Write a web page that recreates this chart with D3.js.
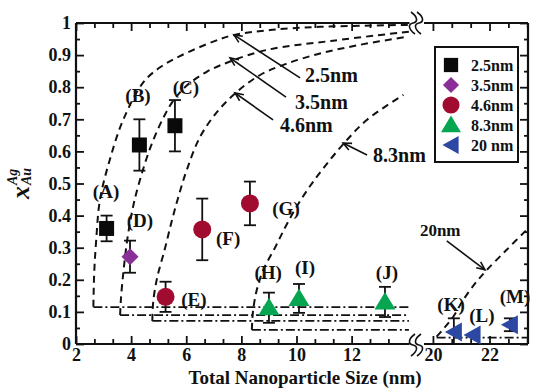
<!DOCTYPE html>
<html><head><meta charset="utf-8">
<script src="https://cdn.jsdelivr.net/npm/d3@7"></script>
<style>
body{margin:0;background:#fff}
svg{display:block}
text{font-family:"Liberation Serif","Times New Roman",serif;font-weight:bold;fill:#111}
</style>
</head><body>
<svg id="c" width="533" height="390"></svg>
<script>
// ---------- data ----------
const legendLabels = ["2.5nm","3.5nm","4.6nm","8.3nm","20 nm"];
const colors = ["#0a0a0a","#8b2f98","#a00b2f","#06a552","#2c48a3"];

const s25X=[3.11,4.30,5.59], s25Y=[0.36,0.62,0.68], s25E=[0.04,0.08,0.08], s25L=["(A)","(B)","(C)"];
const s35X=[3.96], s35Y=[0.272], s35E=[0.05], s35L=["(D)"];
const s46X=[5.25,6.58,8.31], s46Y=[0.147,0.357,0.438], s46E=[0.047,0.096,0.068], s46L=["(E)","(F)","(G)"];
const s83X=[9.00,10.09,13.21], s83Y=[0.113,0.142,0.131], s83E=[0.047,0.045,0.047], s83L=["(H)","(I)","(J)"];
const s20X=[20.74,21.40,22.72], s20Y=[0.037,0.028,0.060], s20E=[0.043,0.0,0.02], s20L=["(K)","(L)","(M)"];

// point label anchor (center x, baseline y) in data units
const labX=[3.09,4.25,5.99,4.32,6.28,7.52,9.62,8.97,10.31,13.28,20.64,21.73,22.90];
const labY=[0.455,0.754,0.779,0.364,0.118,0.308,0.402,0.202,0.218,0.202,0.103,0.069,0.128];

// theory curves (dashed)
const c25X=[2.63,2.66,2.73,2.87,3.23,3.72,4.44,5.05,5.77,6.98,7.70,9.04,10.85,14.08];
const c25Y=[0.116,0.22,0.32,0.45,0.575,0.70,0.815,0.862,0.897,0.942,0.962,0.978,0.988,0.994];
const c35X=[3.60,3.63,3.72,3.86,4.04,4.25,4.69,5.17,5.53,6.02,6.74,7.59,8.92,11.33,14.08];
const c35Y=[0.090,0.14,0.225,0.325,0.415,0.49,0.61,0.705,0.758,0.805,0.848,0.880,0.916,0.945,0.973];
const c46X=[4.77,4.80,4.94,5.22,5.48,5.72,6.03,6.50,7.11,7.83,8.68,9.60,10.85,12.30,14.0];
const c46Y=[0.072,0.13,0.205,0.295,0.385,0.46,0.545,0.645,0.722,0.785,0.838,0.872,0.905,0.932,0.957];
const c83X=[8.38,8.42,8.55,8.80,9.22,9.60,10.0,10.5,11.0,11.69,12.55,13.88];
const c83Y=[0.044,0.10,0.165,0.232,0.30,0.365,0.427,0.493,0.55,0.622,0.698,0.776];
const c20X=[20.13,20.40,20.72,21.07,21.54,21.90,22.60,23.36];
const c20Y=[0.023,0.05,0.085,0.137,0.194,0.23,0.293,0.36];

// baseline levels (dash-dot)
const baseStart=[2.63,3.60,4.77,8.38], baseLevel=[0.115,0.090,0.072,0.044];
const base20Start=20.13, base20Level=0.02;

// annotation arrows
const annLabels=["2.5nm","3.5nm","4.6nm","8.3nm"];
const annText=[[10.31,0.816],[9.95,0.732],[9.40,0.660],[12.78,0.567]];
const annFrom=[[10.13,0.829],[9.62,0.769],[9.15,0.698],[12.56,0.589]];
const annTo=[[7.73,0.963],[7.59,0.891],[7.77,0.782],[11.69,0.626]];
const ann20Text=[19.54,0.336], ann20From=[20.49,0.321], ann20To=[21.84,0.231];

const xMajorL=[2,4,6,8,10,12], xMajorR=[20,22];
const yMajor=[0,0.1,0.2,0.3,0.4,0.5,0.6,0.7,0.8,0.9,1];
const xTitle="Total Nanoparticle Size (nm)";

// ---------- layout ----------
const svg=d3.select("#c");
const L=76, R=528, T=23, B=344, brkL=409.5, brkR=425;
const xL=d3.scaleLinear().domain([2,14.1]).range([L,brkL]);
const xR=d3.scaleLinear().domain([19.72,23.36]).range([brkR,R]);
const y=d3.scaleLinear().domain([0,1]).range([B,T]);

const minorL=d3.range(0,19).map(i=>2+i*2/3).filter(v=>v<=14.05 && Math.abs(v-Math.round(v/2)*2)>0.01);
const minorR=[20.6667,21.3333,22.6667,23.3333];
const yMinor=d3.range(0,10).map(i=>0.05+i*0.1);

function styleAxis(g){g.select(".domain").remove();g.selectAll(".tick line").attr("stroke","#111").attr("stroke-width",1.8);}
svg.append("g").attr("transform",`translate(0,${B})`).call(d3.axisBottom(xL).tickValues(xMajorL).tickSize(-8).tickPadding(4).tickFormat(d3.format("d"))).call(styleAxis);
svg.append("g").attr("transform",`translate(0,${B})`).call(d3.axisBottom(xL).tickValues(minorL).tickSize(-5).tickFormat("")).call(styleAxis);
svg.append("g").attr("transform",`translate(0,${B})`).call(d3.axisBottom(xR).tickValues(xMajorR).tickSize(-8).tickPadding(4).tickFormat(d3.format("d"))).call(styleAxis);
svg.append("g").attr("transform",`translate(0,${B})`).call(d3.axisBottom(xR).tickValues(minorR).tickSize(-5).tickFormat("")).call(styleAxis);
svg.append("g").attr("transform",`translate(0,${T})`).call(d3.axisTop(xL).tickValues(xMajorL).tickSize(-8).tickFormat("")).call(styleAxis);
svg.append("g").attr("transform",`translate(0,${T})`).call(d3.axisTop(xL).tickValues(minorL).tickSize(-5).tickFormat("")).call(styleAxis);
svg.append("g").attr("transform",`translate(0,${T})`).call(d3.axisTop(xR).tickValues(xMajorR).tickSize(-8).tickFormat("")).call(styleAxis);
svg.append("g").attr("transform",`translate(0,${T})`).call(d3.axisTop(xR).tickValues(minorR).tickSize(-5).tickFormat("")).call(styleAxis);
svg.append("g").attr("transform",`translate(${L},0)`).call(d3.axisLeft(y).tickValues(yMajor).tickSize(-8).tickPadding(5).tickFormat(d=>d===0?"0":d===1?"1":d.toFixed(1))).call(styleAxis);
svg.append("g").attr("transform",`translate(${L},0)`).call(d3.axisLeft(y).tickValues(yMinor).tickSize(-4).tickFormat("")).call(styleAxis);
svg.append("g").attr("transform",`translate(${R},0)`).call(d3.axisRight(y).tickValues(yMajor).tickSize(-8).tickFormat("")).call(styleAxis);
svg.append("g").attr("transform",`translate(${R},0)`).call(d3.axisRight(y).tickValues(yMinor).tickSize(-4).tickFormat("")).call(styleAxis);
svg.selectAll(".tick text").attr("font-size",18).attr("font-family","Liberation Serif").attr("font-weight","bold").attr("fill","#111");

// frame
const fr=svg.append("g").attr("stroke","#111").attr("stroke-width",2.2).attr("fill","none");
fr.append("line").attr("x1",L).attr("x2",L).attr("y1",T).attr("y2",B);
fr.append("line").attr("x1",R).attr("x2",R).attr("y1",T).attr("y2",B);
[T,B].forEach(yy=>{
  fr.append("line").attr("x1",L).attr("x2",brkL).attr("y1",yy).attr("y2",yy);
  fr.append("line").attr("x1",brkR-1).attr("x2",R).attr("y1",yy).attr("y2",yy);
});
function brk(cx,cy,flip){
  [-3,3].forEach(dx=>{
    const x=cx+dx, s=flip?-1:1;
    fr.append("path").attr("stroke-width",1.6)
      .attr("d",`M${x-2*s},${cy-11} C${x+5*s},${cy-6} ${x+5*s},${cy-1} ${x},${cy} C${x-5*s},${cy+1} ${x-5*s},${cy+6} ${x+2*s},${cy+11}`);
  });
}
brk(416,T,false); brk(416,B+1,true);

// ---------- curves ----------
const line=(sx)=>d3.line().x(d=>sx(d[0])).y(d=>y(d[1])).curve(d3.curveCatmullRom.alpha(0.5));
const cg=svg.append("g").attr("fill","none").attr("stroke","#111");
[[c25X,c25Y],[c35X,c35Y],[c46X,c46Y],[c83X,c83Y]].forEach(([xs,ys])=>{
  cg.append("path").attr("d",line(xL)(xs.map((v,i)=>[v,ys[i]]))).attr("stroke-width",2).attr("stroke-dasharray","7,5");
});
cg.append("path").attr("d",line(xR)(c20X.map((v,i)=>[v,c20Y[i]]))).attr("stroke-width",2).attr("stroke-dasharray","7,5");
baseStart.forEach((s,i)=>{
  cg.append("line").attr("x1",xL(s)).attr("x2",xL(14.08)).attr("y1",y(baseLevel[i])).attr("y2",y(baseLevel[i]))
    .attr("stroke-width",1.8).attr("stroke-dasharray","9,3,2,3");
});
cg.append("line").attr("x1",xR(base20Start)).attr("x2",xR(23.36)).attr("y1",y(base20Level)).attr("y2",y(base20Level))
  .attr("stroke-width",1.8).attr("stroke-dasharray","9,3,2,3");

// ---------- annotations ----------
const ag=svg.append("g");
function arrow(x1,y1,x2,y2){
  ag.append("line").attr("x1",x1).attr("y1",y1).attr("x2",x2).attr("y2",y2).attr("stroke","#111").attr("stroke-width",1.6);
  const a=Math.atan2(y1-y2,x1-x2), h=9, sp=0.42;
  ag.append("path").attr("fill","none").attr("stroke","#111").attr("stroke-width",1.6)
    .attr("d",`M${x2+h*Math.cos(a+sp)},${y2+h*Math.sin(a+sp)} L${x2},${y2} L${x2+h*Math.cos(a-sp)},${y2+h*Math.sin(a-sp)}`);
}
annLabels.forEach((t,i)=>{
  arrow(xL(annFrom[i][0]),y(annFrom[i][1]),xL(annTo[i][0]),y(annTo[i][1]));
  ag.append("text").attr("x",xL(annText[i][0])).attr("y",y(annText[i][1])).attr("font-size",20).text(t);
});
arrow(xR(ann20From[0]),y(ann20From[1]),xR(ann20To[0]),y(ann20To[1]));
ag.append("text").attr("x",xR(ann20Text[0])).attr("y",y(ann20Text[1])).attr("font-size",17).text("20nm");

// ---------- markers ----------
function shape(g,k,cx,cy,sc){
  sc=sc||1; const c=colors[k];
  if(k===0) g.append("rect").attr("x",cx-7.5*sc).attr("y",cy-7.5*sc).attr("width",15*sc).attr("height",15*sc).attr("fill",c);
  else if(k===1) g.append("path").attr("fill",c).attr("d",`M${cx},${cy-8.5*sc}L${cx+8.5*sc},${cy}L${cx},${cy+8.5*sc}L${cx-8.5*sc},${cy}Z`);
  else if(k===2) g.append("circle").attr("cx",cx).attr("cy",cy).attr("r",9*sc).attr("fill",c);
  else if(k===3) g.append("path").attr("fill",c).attr("d",`M${cx},${cy-10*sc}L${cx+10.5*sc},${cy+7.5*sc}L${cx-10.5*sc},${cy+7.5*sc}Z`);
  else g.append("path").attr("fill",c).attr("d",`M${cx-9*sc},${cy}L${cx+8*sc},${cy-9.5*sc}L${cx+8*sc},${cy+9.5*sc}Z`);
}
const mg=svg.append("g");
const series=[[s25X,s25Y,s25E,xL],[s35X,s35Y,s35E,xL],[s46X,s46Y,s46E,xL],[s83X,s83Y,s83E,xL],[s20X,s20Y,s20E,xR]];
series.forEach(([xs,ys,es,sx],k)=>{
  xs.forEach((v,i)=>{
    const cx=sx(v);
    if(es[i]>0){
      const y1=y(ys[i]+es[i]), y2=y(Math.max(0,ys[i]-es[i]));
      mg.append("line").attr("x1",cx).attr("x2",cx).attr("y1",y1).attr("y2",y2).attr("stroke","#111").attr("stroke-width",1.8);
      [y1,y2].forEach(yy=>mg.append("line").attr("x1",cx-6).attr("x2",cx+6).attr("y1",yy).attr("y2",yy).attr("stroke","#111").attr("stroke-width",1.8));
    }
    shape(mg,k,cx,y(ys[i]));
  });
});
const allLab=[...s25L,...s35L,...s46L,...s83L,...s20L];
allLab.forEach((t,i)=>{
  const sx=labX[i]>15?xR:xL;
  svg.append("text").attr("x",sx(labX[i])).attr("y",y(labY[i])).attr("text-anchor","middle").attr("font-size",19).text(t);
});

// ---------- legend ----------
const lg=svg.append("g");
lg.append("rect").attr("x",435).attr("y",47).attr("width",83).attr("height",115).attr("fill","#fff").attr("stroke","#111").attr("stroke-width",2);
legendLabels.forEach((t,i)=>{
  const cy=65+i*20;
  shape(lg,i,451,cy,0.95);
  lg.append("text").attr("x",471).attr("y",cy+5.5).attr("font-size",16).text(t);
});

// ---------- axis titles ----------
svg.append("text").attr("x",(L+R)/2+3).attr("y",384).attr("text-anchor","middle").attr("font-size",19).text(xTitle);
const yl=svg.append("g").attr("transform","translate(29,199) rotate(-90)");
yl.append("text").attr("x",0).attr("y",0).attr("font-size",26).attr("font-style","italic").text("x");
yl.append("text").attr("x",14).attr("y",-12).attr("font-size",14).attr("font-style","italic").text("Ag");
yl.append("text").attr("x",14).attr("y",2).attr("font-size",14).attr("font-style","italic").text("Au");
</script>
</body></html>
